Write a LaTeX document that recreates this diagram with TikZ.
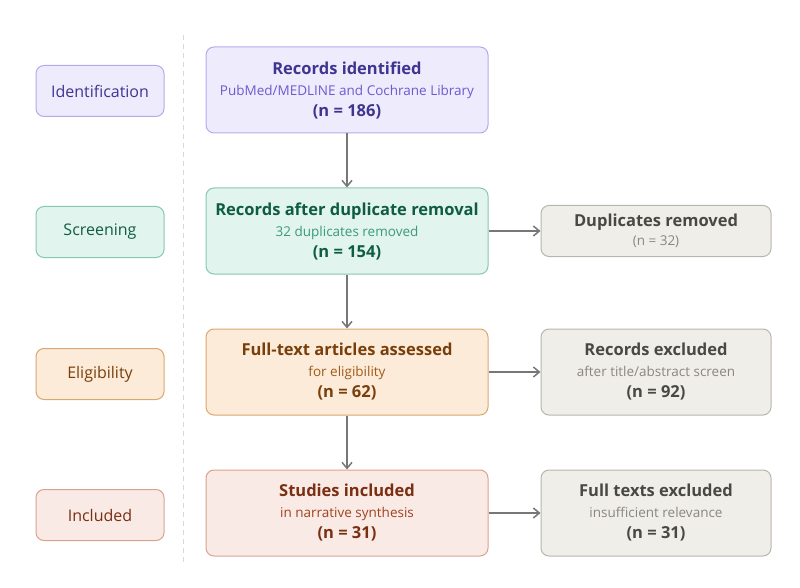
\documentclass[tikz,border=0pt]{standalone}
\usepackage{fontspec}
\setmainfont{Open Sans}
\usetikzlibrary{arrows.meta}
\newcommand{\subf}{\fontsize{13.5}{16}\selectfont\mdseries}
\definecolor{pF}{HTML}{EEEBFD}\definecolor{pB}{HTML}{B5A9EC}\definecolor{pT}{HTML}{3F3590}\definecolor{pS}{HTML}{6B5BD0}
\definecolor{gF}{HTML}{E2F4EE}\definecolor{gB}{HTML}{86C9AE}\definecolor{gT}{HTML}{0F5C45}\definecolor{gS}{HTML}{3C9A78}
\definecolor{oF}{HTML}{FBEBD8}\definecolor{oB}{HTML}{D9A870}\definecolor{oT}{HTML}{7A3E0B}\definecolor{oS}{HTML}{A35A1B}
\definecolor{rF}{HTML}{FAEAE5}\definecolor{rB}{HTML}{D9A28F}\definecolor{rT}{HTML}{7A2E12}\definecolor{rS}{HTML}{A0431F}
\definecolor{kF}{HTML}{F0EEE9}\definecolor{kB}{HTML}{B8B5AE}\definecolor{kT}{HTML}{4A4843}\definecolor{kS}{HTML}{8A8780}
\begin{document}
\begin{tikzpicture}[x=1pt,y=-1pt,
 box/.style={draw,rounded corners=8pt,line width=1pt,inner sep=0pt,align=center},
 lab/.style={box,minimum width=128pt,minimum height=51pt,font=\fontsize{16}{18}\selectfont},
 main/.style={box,minimum width=282pt,minimum height=86pt,font=\fontsize{16.5}{21}\selectfont},
 side/.style={box,minimum width=230pt,font=\fontsize{16.5}{21}\selectfont},
 arr/.style={draw={rgb,255:red,119;green,119;blue,119},line width=1.5pt,-{Straight Barb[length=6pt,width=10pt]}}]
\useasboundingbox (0,0) rectangle (800,588);
\draw[dash pattern=on 5pt off 4pt,color=black!15,line width=1pt] (183,35) -- (183,565);
\node[lab,fill=pF,draw=pB,text=pT] (l1) at (100,91) {Identification};
\node[lab,fill=gF,draw=gB,text=gT] (l2) at (100,232) {Screening};
\node[lab,fill=oF,draw=oB,text=oT] (l3) at (100,374) {Eligibility};
\node[lab,fill=rF,draw=rB,text=rT] (l4) at (100,515) {Included};
\node[main,fill=pF,draw=pB,text=pT] (m1) at (347,90) {\textbf{Records identified}\\{\subf\color{pS}PubMed/MEDLINE and Cochrane Library}\\\textbf{(n = 186)}};
\node[main,fill=gF,draw=gB,text=gT] (m2) at (347,231) {\textbf{Records after duplicate removal}\\{\subf\color{gS}32 duplicates removed}\\\textbf{(n = 154)}};
\node[main,fill=oF,draw=oB,text=oT] (m3) at (347,372) {\textbf{Full-text articles assessed}\\{\subf\color{oS}for eligibility}\\\textbf{(n = 62)}};
\node[main,fill=rF,draw=rB,text=rT] (m4) at (347,513) {\textbf{Studies included}\\{\subf\color{rS}in narrative synthesis}\\\textbf{(n = 31)}};
\node[side,minimum height=51pt,fill=kF,draw=kB,text=kT] (s1) at (656,231) {\textbf{Duplicates removed}\\[-2pt]{\subf\color{kS}(n = 32)}};
\node[side,minimum height=86pt,fill=kF,draw=kB,text=kT] (s2) at (656,372) {\textbf{Records excluded}\\{\subf\color{kS}after title/abstract screen}\\\textbf{(n = 92)}};
\node[side,minimum height=86pt,fill=kF,draw=kB,text=kT] (s3) at (656,513) {\textbf{Full texts excluded}\\{\subf\color{kS}insufficient relevance}\\\textbf{(n = 31)}};
\draw[arr] (m1) -- (m2);
\draw[arr] (m2) -- (m3);
\draw[arr] (m3) -- (m4);
\draw[arr] (m2) -- (s1);
\draw[arr] (m3) -- (s2);
\draw[arr] (m4) -- (s3);
\end{tikzpicture}
\end{document}
